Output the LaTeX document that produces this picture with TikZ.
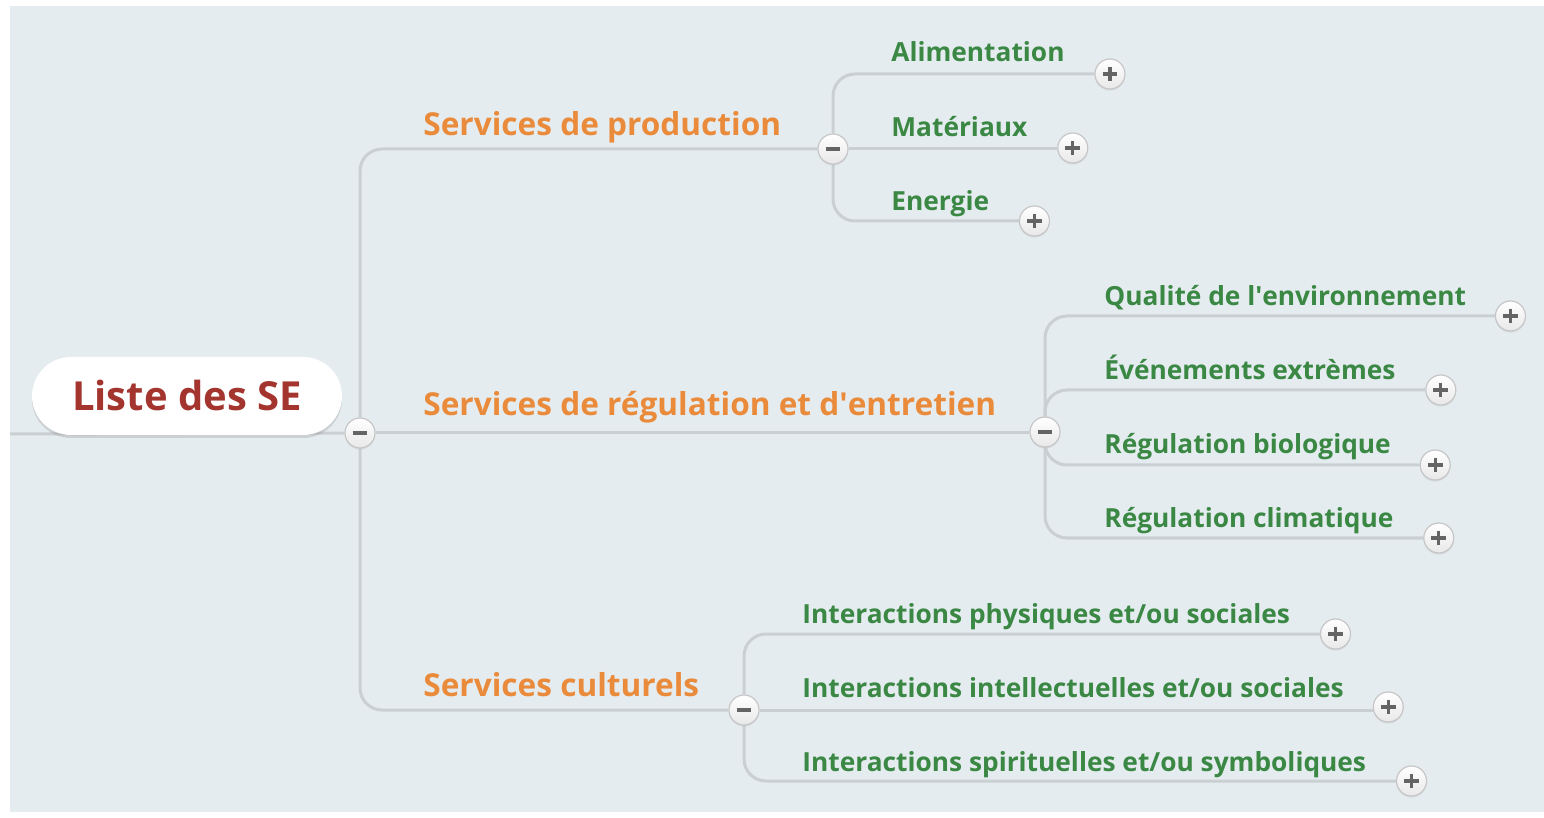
\documentclass[tikz,border=0pt]{standalone}
\usepackage{fontspec}
\setmainfont{Open Sans}
\usetikzlibrary{shadows, backgrounds}

\definecolor{fond}{RGB}{229,236,240}
\definecolor{trait}{RGB}{202,207,210}
\definecolor{rougese}{RGB}{163,52,46}
\definecolor{orangese}{RGB}{234,139,60}
\definecolor{vertse}{RGB}{58,136,68}
\definecolor{signe}{RGB}{100,100,100}

\tikzset{
    lien/.style={draw=trait, line width=1.5pt, rounded corners=11pt},
    racine/.style={fill=white, rounded corners=19.5pt, minimum width=155pt, minimum height=39pt,
        drop shadow={opacity=.25, shadow xshift=0pt, shadow yshift=-1.5pt},
        text=rougese, font=\fontsize{20}{24}\selectfont\bfseries},
    bouton/.style={circle, draw=gray!45, line width=.6pt, top color=white, bottom color=gray!18,
        minimum size=15pt, inner sep=0pt, drop shadow={opacity=.15, shadow xshift=0pt, shadow yshift=-.8pt}},
    moins/.style={bouton, path picture={
        \draw[signe, line width=1.6pt] ([xshift=3.8pt]path picture bounding box.west) -- ([xshift=-3.8pt]path picture bounding box.east);}},
    plus/.style={bouton, path picture={
        \draw[signe, line width=1.6pt] ([xshift=3.8pt]path picture bounding box.west) -- ([xshift=-3.8pt]path picture bounding box.east);
        \draw[signe, line width=1.6pt] ([yshift=-3.8pt]path picture bounding box.north) -- ([yshift=3.8pt]path picture bounding box.south);}},
    titre/.style={anchor=base west, inner sep=0pt, text=orangese, font=\fontsize{15.8}{19}\selectfont\bfseries},
    feuille/.style={anchor=base west, inner sep=0pt, text=vertse, font=\fontsize{13.15}{16}\selectfont\bfseries},
}

\begin{document}
\begin{tikzpicture}[x=.5pt, y=-.5pt]
    \useasboundingbox (0,0) rectangle (1544,818);
    \coordinate (bord) at (10,434); % bord gauche

    \node[racine] (se) at (187,396) {Liste des SE};
    \node[moins] (r0) at (360,433) {};

    % services
    \node[titre] (b1) at (423,136) {Services de production};
    \node[titre] (b2) at (423,416) {Services de r\'egulation et d\textquotesingle entretien};
    \node[titre] (b3) at (423,696) {Services culturels};
    \node[moins] (m1) at (833,149) {};
    \node[moins] (m2) at (1045,432) {};
    \node[moins] (m3) at (744,710) {};

    % production
    \node[feuille] (f11) at (891,62) {Alimentation};
    \node[feuille] (f12) at (891,137) {Mat\'eriaux};
    \node[feuille] (f13) at (891,211) {Energie};
    \node[plus] (p11) at ([xshift=22.5pt, yshift=-6pt]f11.base east) {};
    \node[plus] (p12) at ([xshift=22.5pt, yshift=-5.5pt]f12.base east) {};
    \node[plus] (p13) at ([xshift=22.5pt, yshift=-5pt]f13.base east) {};

    % regulation
    \node[feuille] (f21) at (1104,306) {Qualit\'e de l\textquotesingle environnement};
    \node[feuille] (f22) at (1104,380) {\'Ev\'enements extr\`emes};
    \node[feuille] (f23) at (1104,454) {R\'egulation biologique};
    \node[feuille] (f24) at (1104,527) {R\'egulation climatique};
    \node[plus] (p21) at ([xshift=22pt, yshift=-5pt]f21.base east) {};
    \node[plus] (p22) at ([xshift=22.5pt, yshift=-5pt]f22.base east) {};
    \node[plus] (p23) at ([xshift=22pt, yshift=-5.5pt]f23.base east) {};
    \node[plus] (p24) at ([xshift=22.5pt, yshift=-5.5pt]f24.base east) {};

    % culturels
    \node[feuille] (f31) at (802,623) {Interactions physiques et/ou sociales};
    \node[feuille] (f32) at (802,697) {Interactions intellectuelles et/ou sociales};
    \node[feuille] (f33) at (802,771) {Interactions spirituelles et/ou symboliques};
    \node[plus] (p31) at ([xshift=22.5pt, yshift=-5.5pt]f31.base east) {};
    \node[plus] (p32) at ([xshift=22pt, yshift=-5pt]f32.base east) {};
    \node[plus] (p33) at ([xshift=22.5pt, yshift=-5pt]f33.base east) {};

    \begin{scope}[on background layer]
        \fill[fond] (10,6) rectangle (1544,812); % fond
        \draw[lien] (bord) -- (r0); % sous la racine
        \draw[lien] (r0) |- (m1);
        \draw[lien] (r0.east) -- (r0.east -| m2.west);
        \draw[lien] (r0) |- (m3);
        \draw[lien] (m1) |- (p11);
        \draw[lien] (m1.east) -- (m1.east -| p12.west);
        \draw[lien] (m1) |- (p13);
        \draw[lien] (m2) |- (p21);
        \draw[lien] (m2) |- (p22);
        \draw[lien] (m2) |- (p23);
        \draw[lien] (m2) |- (p24);
        \draw[lien] (m3) |- (p31);
        \draw[lien] (m3.east) -- (m3.east -| p32.west);
        \draw[lien] (m3) |- (p33);
    \end{scope}
\end{tikzpicture}
\end{document}
